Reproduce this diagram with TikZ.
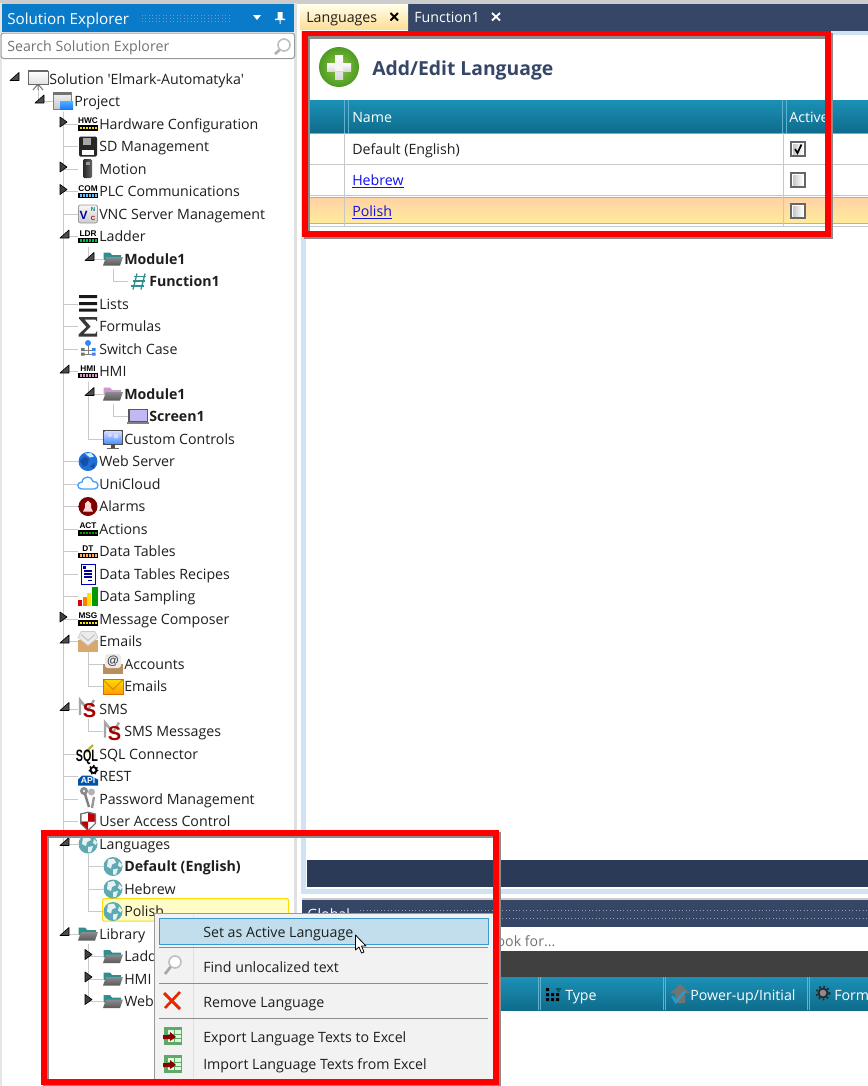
\documentclass[tikz,border=0pt]{standalone}
\usepackage{fontspec}
\setmainfont{Open Sans}
\newfontfamily\rawfont{Open Sans}
\newfontfamily\chipfont{Liberation Sans}
\usetikzlibrary{calc}
\newcommand\uifont{\fontsize{10.65}{12.5}\selectfont}
\definecolor{txt}{HTML}{1E1E1E}
\definecolor{navy}{HTML}{354666}
\definecolor{navyd}{HTML}{2B3A57}
\definecolor{vsblue}{HTML}{0A7BC8}
\definecolor{paleblue}{HTML}{CFE3F5}
\definecolor{treegray}{HTML}{C9C9C9}
\definecolor{teala}{HTML}{1B90B6}
\definecolor{tealb}{HTML}{0F6C8C}
\definecolor{teall}{HTML}{5FB3CE}
\definecolor{redbox}{HTML}{FF0000}
\definecolor{menubg}{HTML}{F2F2F2}
\definecolor{menuhi}{HTML}{C2DEEC}
\definecolor{menuhib}{HTML}{3A9AD0}
\definecolor{linkblue}{HTML}{1010EE}
\definecolor{ladderteal}{HTML}{2F8F8F}
\definecolor{globe}{HTML}{5FA9B2}
\definecolor{tan}{HTML}{D9A86C}
\definecolor{greena}{HTML}{8CC63F}
\definecolor{greenb}{HTML}{4F9A24}
\definecolor{webblue}{HTML}{1E6FD8}
\definecolor{webdark}{HTML}{174FA8}
\definecolor{xlgreen}{HTML}{5FA86A}
\pgfdeclarelayer{bg}
\pgfdeclarelayer{lines}
\pgfsetlayers{bg,lines,main}
\tikzset{
  iconbox/.style={inner sep=0pt,minimum width=15pt,minimum height=15pt},
  rowlabel/.style={anchor=base west,inner sep=0pt,text=txt,font=\uifont},
  boldrow/.style={font=\uifont\bfseries},
  treeline/.style={draw=treegray,line width=.75pt},
  expopen/.style={fill=black!70,draw=black,line width=.5pt,line join=round},
  expshut/.style={fill=black!75,draw=black,line width=.5pt,line join=round},
  hdrtext/.style={anchor=base west,inner sep=0pt,text=white,font=\uifont},
  menutext/.style={anchor=base west,inner sep=0pt,text=txt,font=\uifont},
  celltext/.style={anchor=base west,inner sep=0pt,text=txt,font=\uifont},
  linktext/.style={anchor=base west,inner sep=0pt,text=linkblue,font=\uifont},
  redframe/.style={draw=redbox,line width=4.2pt,line join=miter},
  redshadow/.style={draw=black!45,line width=4.2pt,line join=miter},
  tinylabel/.style={inner sep=0pt,font=\chipfont\bfseries\fontsize{6.2}{6.2}\selectfont},
  hdrsep/.style={draw=teall,line width=.75pt},
  cellline/.style={draw=black!22,line width=.75pt},
  menusep/.style={draw=black!45,line width=.75pt},
}
% icon drawings, local coordinates centred on the row's icon node
\newcommand\IcChip[2]{%
  \node[tinylabel] at (0,-3.2) {#1};
  \fill[black] (-10,1) rectangle (10,6.5);
  \foreach \q in {-8.5,-5.5,...,8} {\fill[#2] (\q,2.6) rectangle +(2,2.4);}
}
\newcommand\IcFolder[1]{%
  \fill[#1] (-9.5,-6.5) -- (-3,-6.5) -- (-1,-4) -- (8,-4) -- (8,1) -- (-9.5,1) -- cycle;
  \shade[top color=black!45,bottom color=black!65] (-10,6.5) -- (-7,-2) -- (10,-2) -- (7,6.5) -- cycle;
}
\newcommand\IcGlobe{%
  \fill[globe] (0,0) circle (9.5);
  \fill[white!85!globe] (-5,-7) -- (1,-8) -- (3,-4) -- (-1,-2) -- (-2,2) -- (-6,0) -- cycle;
  \fill[white!85!globe] (0,3) -- (5,2) -- (3,8) -- (0,8) -- cycle;
  \fill[white!85!globe] (6,-5) -- (9,-2) -- (8,1) -- (5,-1) -- cycle;
}
\newcommand\IcSolution{%
  \draw[black!55,line width=.75pt] (0,5) -- (-5,11) (0,5) -- (5,11) (0,5) -- (0,11);
  \shade[top color=white,bottom color=green!6!black!12,draw=black!60,line width=.6pt] (-10,-8) rectangle (10,5);
  \fill[black!60] (-10,-9) rectangle (10,-7);
}
\newcommand\IcProject{%
  \shade[top color=black!5,bottom color=black!22,draw=black!50,line width=.6pt] (-10,-9) rectangle (8,8);
  \fill[black!55] (-10,-10) rectangle (8,-6.5);
  \shade[top color=blue!45!cyan!70,bottom color=blue!60!cyan!90] (-3,0) rectangle (10,8);
}
\newcommand\IcFloppy{%
  \fill[black!85,rounded corners=1pt] (-9,-10) rectangle (9,10);
  \fill[black!35] (-5,-9) rectangle (3,-2);
  \fill[white] (-6,3) rectangle (6,8);
}
\newcommand\IcMotion{%
  \shade[left color=black!85,right color=black!60,rounded corners=1pt] (-5,-10) rectangle (4,9);
  \fill[black!40] (-2,-7) rectangle (2,-4);
}
\newcommand\IcVNC{%
  \shade[top color=black!3,bottom color=black!20,draw=black!40,rounded corners=1.5pt,line width=.6pt] (-9.5,-9) rectangle (9.5,9);
  \node[inner sep=0pt,text=blue!65!black,font=\chipfont\bfseries\fontsize{9}{9}\selectfont] at (-4.4,1) {V};
  \node[inner sep=0pt,text=teal,font=\chipfont\bfseries\fontsize{4.5}{4.5}\selectfont] at (5,-4.5) {N};
  \node[inner sep=0pt,text=red!75!black,font=\chipfont\bfseries\fontsize{4.5}{4.5}\selectfont] at (5,4.5) {C};
}
\newcommand\IcRungs{%
  \draw[ladderteal,line width=1pt] (-5,8) -- (-1,-8) (3,8) -- (7,-8);
  \draw[ladderteal,line width=1pt] (-7,4.5) -- (6,4.5) (-5.5,-0.5) -- (7,-0.5) (-4,-5) -- (8,-5);
}
\newcommand\IcLists{%
  \fill[black!90] (-9,-9) rectangle (9,-6) (-9,-2) rectangle (9,1) (-9,4.5) rectangle (9,7.5);
}
\newcommand\IcSigma{%
  \fill[black!78] (-9,-9.5) -- (9,-9.5) -- (9,-5) -- (7.5,-7) -- (-3.5,-7) -- (2.5,0) -- (-4.5,7) -- (7.5,7) -- (9,4.5) -- (9,10) -- (-9.5,10) -- (-9.5,8) -- (-1.5,0.5) -- (-9,-8) -- cycle;
}
\newcommand\IcSwitch{%
  \draw[black!50,line width=.5pt] (0,-5) -- (0,5) (-5,1) -- (6,1) (-5,5) -- (6,5);
  \fill[blue!60!cyan!80] (0,-6) circle (3);
  \fill[black!55] (-7,-1) rectangle +(3.5,3) (-7,3.5) rectangle +(3.5,3);
  \fill[blue!60!cyan!80] (4,-1) rectangle +(3.5,3) (4,3.5) rectangle +(3.5,3);
}
\newcommand\IcLaptop{%
  \fill[black!65] (-10,-8) rectangle (10,6);
  \fill[violet!25!blue!28!white] (-8.5,-6.5) rectangle (8.5,4.5);
  \fill[black!50] (-11,5) rectangle (11,7.5);
}
\newcommand\IcMonitor{%
  \fill[black!70] (-10,-9) rectangle (10,6);
  \shade[top color=cyan!15!blue!18,bottom color=cyan!40!blue!70] (-8.5,-7.5) rectangle (8.5,4.5);
  \fill[white!85!blue] (-3,-4) circle (2) (3,-3) circle (2.5);
  \fill[black!70] (-2,6) rectangle (2,9);
  \fill[black!60] (-6,8.5) rectangle (6,10);
}
\newcommand\IcWeb{%
  \fill[webblue] (0,0) circle (9.5);
  \fill[webdark] (-8,-1) -- (-3,-5) -- (1,-2) -- (-1,4) -- (-5,5) -- cycle;
  \fill[webdark] (2,5) -- (7,1) -- (6,7) -- cycle;
  \fill[white!80!cyan] (-3,-8) -- (3,-8.5) -- (6,-5) -- (2,-4) -- cycle;
}
\newcommand\IcCloud{%
  \draw[blue!50!cyan!75,line width=1pt,fill=white] (-6,5) .. controls (-11.5,5) and (-11.5,-2) .. (-6,-2) .. controls (-5,-8.5) and (4,-8.5) .. (5,-2.5) .. controls (11,-3.5) and (12,5) .. (6,5) -- cycle;
}
\newcommand\IcAlarm{%
  \shade[inner color=red!60!black,outer color=red!45!black] (0,0) circle (9.5);
  \fill[white!85!red] (-5,5) -- (-3,1) -- (-3,-3) -- (0,-6) -- (3,-3) -- (3,1) -- (5,5) -- cycle;
}
\newcommand\IcDoc{%
  \draw[blue!70!black,fill=white,line width=.75pt] (-7,-10) rectangle (7,10);
  \draw[blue!60!black,line width=.8pt] (-4,-3) -- (4,-3) (-4,0) -- (4,0) (-4,3) -- (4,3) (0,6.5) -- (4,6.5);
  \fill[blue!60!black] (-5,-8) rectangle (-2,-5);
}
\newcommand\IcBars{%
  \fill[red!85!black] (-10,3) rectangle (-6,9);
  \fill[orange] (-5.5,0) rectangle (-1.5,9);
  \fill[yellow!85!orange] (-1,-4) rectangle (3,9);
  \fill[green!60!black] (3.5,-10) rectangle (9.5,9);
}
\newcommand\IcMailOpen{%
  \fill[tan] (-10,-2) rectangle (10,10);
  \fill[black!8,draw=black!20,line width=.5pt] (-7,-10) -- (7,-10) -- (10,-4) -- (0,4) -- (-10,-4) -- cycle;
  \draw[black!30,line width=.5pt] (-7,-7) -- (0,-1) -- (7,-7);
}
\newcommand\IcAccounts{%
  \fill[tan!85!black] (-10,0) rectangle (10,10);
  \fill[black!8,rounded corners=2pt] (-8,-10) rectangle (8,4);
  \node[inner sep=0pt,text=black!75,font=\chipfont\bfseries\fontsize{9}{9}\selectfont] at (0,-3) {@};
}
\newcommand\IcMail{%
  \shade[top color=yellow!70!orange,bottom color=orange!80!yellow,draw=orange!85!black,line width=.5pt] (-10,-7) rectangle (10,8);
  \draw[orange!80!black,line width=.5pt] (-10,-7) -- (0,3) -- (10,-7);
}
\newcommand\IcSMS{%
  \draw[black!35,line width=1.8pt] (-8,6) -- (-8,-9) -- (0,1) -- (6,-9);
  \node[inner sep=0pt,text=red!65!black,font=\chipfont\bfseries\fontsize{15}{15}\selectfont] at (1.5,2) {S};
}
\newcommand\IcSQL{%
  \draw[yellow!70!black,line width=1.8pt] (-2,-2) -- (5,-9);
  \node[inner sep=0pt,text=black,font=\chipfont\bfseries\fontsize{8.5}{9}\selectfont,yscale=1.45,xscale=.95] at (-1,3) {SQL};
}
\newcommand\IcAPI{%
  \fill[blue!35!teal] (-10,9) -- (-10,3) -- (-6,-1) -- (2,-1) -- (10,3) -- (10,9) -- cycle;
  \node[inner sep=0pt,text=white,font=\chipfont\bfseries\fontsize{6.5}{6.5}\selectfont] at (0,4.5) {API};
  \draw[black,line width=1.4pt,fill=white] (5.5,-6.5) circle (3);
  \draw[black,line width=1pt,dotted] (5.5,-6.5) circle (4.4);
}
\newcommand\IcKey{%
  \draw[black!45,line width=2pt] (-4,-8) circle (2.6);
  \draw[black!50,line width=1.8pt] (-3,-5) -- (1,8);
  \draw[black!40,line width=1.8pt] (6,-2) -- (4,9);
  \fill[black!30] (3.5,-7) circle (3.5);
}
\newcommand\IcShield{%
  \fill[black!55] (-8,-8) -- (0,-10) -- (8,-8) -- (8,2) -- (0,10) -- (-8,2) -- cycle;
  \fill[white] (-6.5,-7) -- (0,-8.5) -- (0,0) -- (-6.5,0) -- cycle;
  \fill[white] (0,0) -- (6.5,0) -- (6.5,2) -- (0,8) -- cycle;
  \fill[red!75!black] (0,-8.5) -- (6.5,-7) -- (6.5,0) -- (0,0) -- cycle;
  \fill[red!75!black] (0,0) -- (-6.5,0) -- (-6.5,2) -- (0,8) -- cycle;
}
\newcommand\Arrowopen[1]{\path[expopen] ($(i#1.center)+(-19,-6.5)$) -- ++(0,8) -- ++(-9,0) -- cycle;}
\newcommand\Arrowshut[1]{\path[expshut] ($(i#1.center)+(-28,-7)$) -- ++(7,5) -- ++(-7,5) -- cycle;}
% name, icon centre x, row y, icon drawing, extra label style, label
\newcommand\treerow[6]{%
  \node[iconbox] (i#1) at (#2,#3) {};
  \begin{scope}[shift={(#2,#3)}]#4\end{scope}
  \node[rowlabel,#5] (t#1) at ({#2+11},{#3+5}) {#6};
}
\begin{document}
\begin{tikzpicture}[x=.75pt,y=-.75pt]
\useasboundingbox (0,0) rectangle (868,1086);
\path[clip] (0,0) rectangle (868,1086);
\begin{pgfonlayer}{bg}
  \fill[white] (0,0) rectangle (868,1086);
  \fill[black!20] (0,0) rectangle (868,3.5);
  \fill[black!10] (0,3) rectangle (2,1086);
  \fill[black!12] (294,3) rectangle (297,1086);
  % polish selection in the tree
  \draw[draw=yellow!80!orange,fill=yellow!22,rounded corners=1pt,line width=.75pt] (102.5,898.5) rectangle (288.5,921);
\end{pgfonlayer}
% solution explorer header
\fill[vsblue] (2,4) rectangle (294,32);
\node[anchor=base west,inner sep=0pt,text=white,font=\fontsize{11.4}{13}\selectfont] (sehead) at (7,24) {Solution Explorer};
\foreach \q in {15,18,21} {\draw[cyan!40!blue!55!white,line width=.6pt,dotted] (142,\q) -- (232,\q);}
\fill[white] (253,15) -- (261,15) -- (257,20) -- cycle;
\fill[white] (277.5,12) rectangle (282.5,19) (275,18.5) rectangle (285,20) (279.5,20) rectangle (280.5,24);
% search box
\draw[draw=black!40,fill=white,rounded corners=2pt,line width=.75pt] (1,33) rectangle (294.5,58.5);
\node[anchor=base west,inner sep=0pt,text=black!55,font=\uifont] (search) at (7,51.5) {Search Solution Explorer};
\draw[black!25,line width=1.2pt] (284,45) circle (6);
\draw[black!30,line width=2pt] (279.5,50) -- (275,54);
% tree
\treerow{sol}{38}{79}{\IcSolution}{}{\rawfont Solution 'Elmark-Automatyka'}
\treerow{proj}{63}{101.5}{\IcProject}{}{Project}
\treerow{hwc}{88}{124}{\IcChip{HWC}{yellow!80!orange}}{}{Hardware Configuration}
\treerow{sd}{88}{146.5}{\IcFloppy}{}{SD Management}
\treerow{mot}{88}{169}{\IcMotion}{}{Motion}
\treerow{com}{88}{191.5}{\IcChip{COM}{blue!40!cyan!60}}{}{PLC Communications}
\treerow{vnc}{88}{214}{\IcVNC}{}{VNC Server Management}
\treerow{ldr}{88}{236.5}{\IcChip{LDR}{green!50!teal}}{}{Ladder}
\treerow{mod}{113}{259}{\IcFolder{ladderteal}}{boldrow}{Module1}
\treerow{fun}{138}{281.5}{\IcRungs}{boldrow}{Function1}
\treerow{lis}{88}{304}{\IcLists}{}{Lists}
\treerow{frm}{88}{326.5}{\IcSigma}{}{Formulas}
\treerow{swi}{88}{349}{\IcSwitch}{}{Switch Case}
\treerow{hmi}{88}{371.5}{\IcChip{HMI}{violet!40!white}}{}{HMI}
\treerow{hmo}{113}{394}{\IcFolder{violet!40!white}}{boldrow}{Module1}
\treerow{scr}{138}{416.5}{\IcLaptop}{boldrow}{Screen1}
\treerow{cus}{113}{439}{\IcMonitor}{}{Custom Controls}
\treerow{web}{88}{461.5}{\IcWeb}{}{Web Server}
\treerow{uni}{88}{484}{\IcCloud}{}{UniCloud}
\treerow{ala}{88}{506.5}{\IcAlarm}{}{Alarms}
\treerow{act}{88}{529}{\IcChip{ACT}{green!60!black}}{}{Actions}
\treerow{dta}{88}{551.5}{\IcChip{DT}{orange!60!white}}{}{Data Tables}
\treerow{rec}{88}{574}{\IcDoc}{}{Data Tables Recipes}
\treerow{sam}{88}{596.5}{\IcBars}{}{Data Sampling}
\treerow{msg}{88}{619}{\IcChip{MSG}{yellow!90!orange}}{}{Message Composer}
\treerow{ema}{88}{641.5}{\IcMailOpen}{}{Emails}
\treerow{acc}{113}{664}{\IcAccounts}{}{Accounts}
\treerow{eml}{113}{686.5}{\IcMail}{}{Emails}
\treerow{sms}{88}{709}{\IcSMS}{}{SMS}
\treerow{smm}{113}{731.5}{\IcSMS}{}{SMS Messages}
\treerow{sql}{88}{754}{\IcSQL}{}{SQL Connector}
\treerow{res}{88}{776.5}{\IcAPI}{}{REST}
\treerow{pwd}{88}{799}{\IcKey}{}{Password Management}
\treerow{uac}{88}{821.5}{\IcShield}{}{User Access Control}
\treerow{lan}{88}{844}{\IcGlobe}{}{Languages}
\treerow{def}{113}{866.5}{\IcGlobe}{boldrow}{Default (English)}
\treerow{heb}{113}{889}{\IcGlobe}{}{Hebrew}
\treerow{pol}{113}{911.5}{\IcGlobe}{}{Polish}
\treerow{lib}{88}{934}{\IcFolder{ladderteal}}{}{Library}
\treerow{lla}{113}{956.5}{\IcFolder{ladderteal}}{}{Ladder}
\treerow{lhm}{113}{979}{\IcFolder{ladderteal}}{}{HMI}
\treerow{lwe}{113}{1001.5}{\IcFolder{ladderteal}}{}{Web Server}
% tree connectors
\begin{pgfonlayer}{lines}
  \draw[treeline] (isol.south) |- (iproj.west);
  \foreach \c in {hwc,sd,mot,com,vnc,ldr,lis,frm,swi,hmi,web,uni,ala,act,dta,rec,sam,msg,ema,sms,sql,res,pwd,uac,lan,lib}
    {\draw[treeline] (iproj.south) |- (i\c.west);}
  \draw[treeline] (ildr.south) |- (imod.west);
  \draw[treeline] (imod.south) |- (ifun.west);
  \draw[treeline] (ihmi.south) |- (ihmo.west);
  \draw[treeline] (ihmi.south) |- (icus.west);
  \draw[treeline] (ihmo.south) |- (iscr.west);
  \draw[treeline] (iema.south) |- (iacc.west);
  \draw[treeline] (iema.south) |- (ieml.west);
  \draw[treeline] (isms.south) |- (ismm.west);
  \foreach \c in {def,heb,pol} {\draw[treeline] (ilan.south) |- (i\c.west);}
  \foreach \c in {lla,lhm,lwe} {\draw[treeline] (ilib.south) |- (i\c.west);}
\end{pgfonlayer}
\foreach \c in {sol,proj,ldr,mod,hmi,hmo,ema,sms,lan,lib} {\Arrowopen{\c}}
\foreach \c in {hwc,mot,com,msg,lla,lhm,lwe} {\Arrowshut{\c}}
% document tabs
\fill[navy] (408,4) rectangle (868,31);
\shade[top color=yellow!8,bottom color=yellow!35!orange!40!white] (300,4) rectangle (408,29);
\node[anchor=base west,inner sep=0pt,text=txt,font=\uifont] (tablang) at (306,22) {Languages};
\draw[black,line width=1.4pt] (390.5,13) -- (398,20.5) (398,13) -- (390.5,20.5);
\node[anchor=base west,inner sep=0pt,text=white,font=\uifont] (tabfun) at (414,22) {Function1};
\draw[white,line width=1.4pt] (492,13) -- (500,20.5) (500,13) -- (492,20.5);
% language editor pane
\fill[paleblue] (301,31) rectangle (868,894);
\fill[white] (306,35) rectangle (868,889);
\shade[inner color=greena,outer color=greenb] (339,67) circle (20);
\shade[top color=white,bottom color=black!15] (335,55) rectangle (343,79);
\shade[top color=white,bottom color=black!15] (327,63) rectangle (351,71);
\fill[black!4] (335,63) rectangle (343,71);
\node[anchor=base west,inner sep=0pt,text=navy,font=\fontsize{14.5}{17}\selectfont\bfseries] (addedit) at (372,75) {Add/Edit Language};
% language table
\shade[top color=teala,bottom color=tealb] (306,100) rectangle (868,133);
\fill[teall] (306,132.5) rectangle (868,133.5);
\draw[hdrsep] (344.5,100) -- (344.5,133) (348.5,100) -- (348.5,133) (782.5,100) -- (782.5,133) (786.5,100) -- (786.5,133);
\node[hdrtext] (hname) at (352,122) {Name};
\node[hdrtext] (hact) at (789,122) {Active};
\shade[top color=orange!35!white,bottom color=yellow!60!orange!40!white] (306,198) rectangle (868,223);
\draw[draw=orange!65!yellow,line width=.75pt] (306,197.5) -- (868,197.5) (306,223.5) -- (868,223.5);
\draw[cellline] (306,164) -- (868,164) (306,195) -- (868,195) (306,226) -- (868,226);
\draw[cellline] (344.5,133) -- (344.5,226) (783,133) -- (783,226);
\node[celltext] (rdef) at (352,154.5) {Default (English)};
\node[linktext] (rheb) at (352,185.5) {\underline{Hebrew}};
\node[linktext] (rpol) at (352,216.5) {\underline{Polish}};
\foreach \q in {149,180,211} {
  \draw[draw=black!60,fill=white,line width=.9pt] (791,\q-7) rectangle (805,\q+7);
  \shade[left color=black!22,right color=white] (793,\q-5) rectangle (803,\q+5);
}
\draw[black,line width=1.3pt] (795,149) -- (797.5,153) -- (801.5,144.5);
% lower panes
\fill[navyd] (307,860) rectangle (868,887);
\fill[black!20] (302,897.5) rectangle (868,900);
\fill[navy] (302,900) rectangle (868,927);
\node[anchor=base west,inner sep=0pt,text=white,font=\uifont] (global) at (307,919) {Global};
\foreach \q in {910,918} {\draw[black!10!navy!50!white,line width=.6pt,dotted] (360,\q) -- (868,\q);}
\fill[white] (302,927) rectangle (868,951);
\node[anchor=base west,inner sep=0pt,text=black!55,font=\uifont] (look) at (489,946) {Look for...};
\fill[black!75] (302,951) rectangle (868,977);
\shade[top color=teala,bottom color=tealb] (302,977) rectangle (868,1010);
\draw[hdrsep] (538,977) -- (538,1010) (540,977) -- (540,1010) (663,977) -- (663,1010) (665,977) -- (665,1010) (807,977) -- (807,1010) (809,977) -- (809,1010);
\node[hdrtext] (htype) at (565,1000) {Type};
\node[hdrtext] (hpow) at (690,1000) {Power-up/Initial};
\node[hdrtext] (hform) at (834,1000) {Form};
\fill[black] (546,988) rectangle +(3,3) (546,993) rectangle +(3,3) (546,998) rectangle +(3,3) (551,993) rectangle +(3,3) (551,998) rectangle +(3,3) (556,998) rectangle +(3,3) (556,993) rectangle +(3,3);
\fill[teal!70!black] (556,988) rectangle (561,990) (557.5,988) rectangle (559.5,992);
\fill[black!55] (670,993) -- (680,984) -- (690,993) -- (685,993) -- (685,1003) -- (675,1003) -- (675,993) -- cycle;
\draw[cyan!60!teal,line width=1.8pt] (672,996) -- (676,1002) -- (685,991);
\draw[black!85,line width=1.3pt,fill=black!45] (823,993) circle (4.5);
\draw[black!85,line width=1.3pt,dotted] (823,993) circle (6.5);
% context menu
\fill[black!30] (156,915) rectangle (495,1081);
\draw[draw=black!40,fill=menubg,line width=.75pt] (154.5,913.5) rectangle (493,1079);
\draw[draw=black!12,line width=.75pt] (193,915) -- (193,1078);
\draw[draw=menuhib,fill=menuhi,line width=.75pt] (159.5,918) rectangle (488,944);
\draw[menusep] (159,947) -- (488,947) (159,983) -- (488,983) (159,1018) -- (488,1018);
\node[menutext] (m1) at (203,937) {Set as Active Language};
\node[menutext] (m2) at (203,972) {Find unlocalized text};
\node[menutext] (m3) at (203,1007) {Remove Language};
\node[menutext] (m4) at (203,1042) {Export Language Texts to Excel};
\node[menutext] (m5) at (203,1069) {Import Language Texts from Excel};
% menu icons
\draw[black!25,line width=1.2pt,fill=white] (175,962) circle (6);
\draw[black!35,line width=2pt] (170.5,967) -- (165,974);
\draw[red!65!orange!90!black,line width=2.2pt] (164,993) -- (180,1009);
\draw[red!65!orange!90!black,line width=2pt] (180,992) -- (165,1008);
\foreach \q in {1036,1064} {
  \fill[xlgreen] (164,\q-9) rectangle (182,\q+9);
  \fill[white!85!green] (168,\q-6) rectangle (181,\q+6);
  \draw[xlgreen,line width=.5pt] (168,\q-2) -- (181,\q-2) (168,\q+2) -- (181,\q+2) (174.5,\q-6) -- (174.5,\q+6);
  \fill[red!55!black] (163,\q-1) -- (170,\q-1) -- (170,\q-4) -- (176,\q+1) -- (170,\q+5) -- (170,\q+3) -- (163,\q+3) -- cycle;
}
% pointer
\draw[fill=white,draw=black,line width=.6pt,line join=round] (355.5,935) -- (355.5,950) -- (359,947) -- (361.5,953) -- (364,952) -- (361.5,946) -- (366,946) -- cycle;
% red frames
\draw[redshadow] (307,36) rectangle (830,236);
\draw[redshadow] (46,835) rectangle (498,1084);
\draw[redframe] (305,33.5) rectangle (828,234);
\draw[redframe] (44,833) rectangle (496,1082);
\end{tikzpicture}
\end{document}
